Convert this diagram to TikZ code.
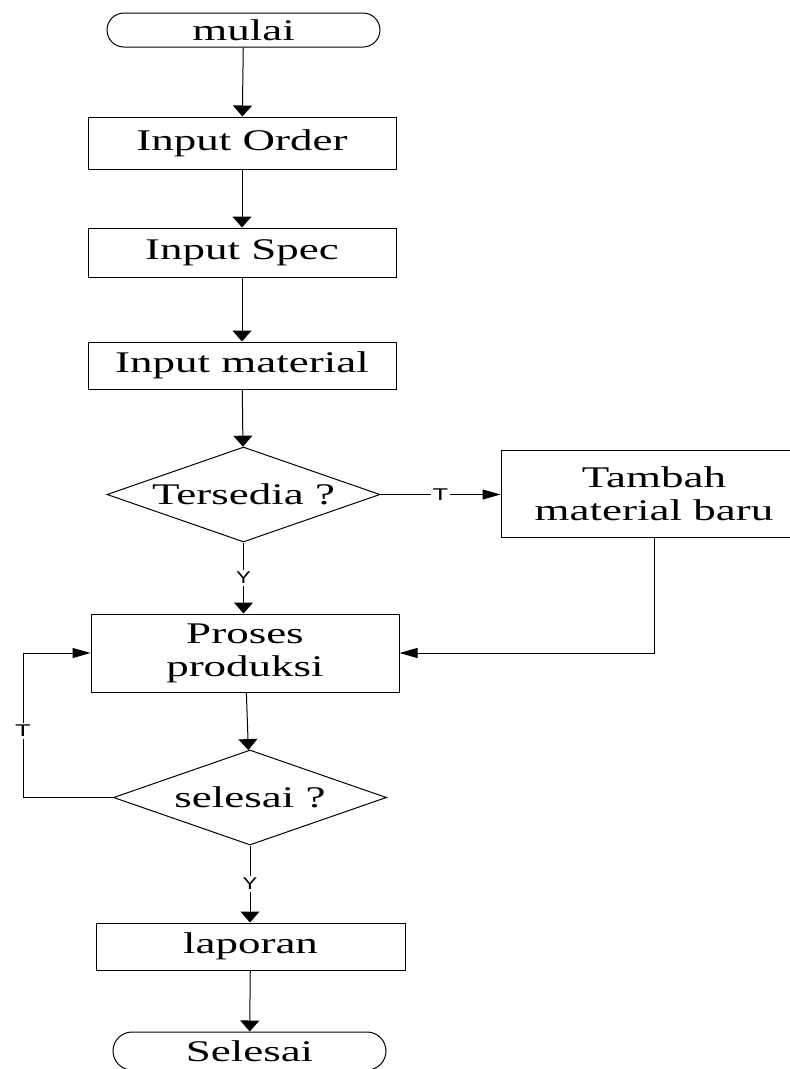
\documentclass[tikz,border=0pt]{standalone}
\usepackage{fontspec}
\setmainfont[FakeStretch=1.5]{Liberation Serif}
\newfontfamily\lblfont[FakeStretch=1.3]{Liberation Sans}
\newfontfamily\lblTfont[FakeStretch=1.5]{Liberation Sans}
\usetikzlibrary{shapes.geometric,shapes.misc,arrows.meta}
\begin{document}
\begin{tikzpicture}[x=1pt,y=-1pt,
  base/.style={draw=black, line width=1pt, font=\fontsize{30pt}{33pt}\selectfont, align=center, inner sep=0pt},
  proc/.style={base, rectangle, minimum width=308pt},
  term/.style={base, rounded rectangle, minimum width=273pt},
  dec/.style={base, diamond, aspect=2.87, minimum width=273pt, minimum height=95pt},
  flow/.style={line width=1pt, draw=black},
  varr/.style={flow, -{Triangle[length=11pt,width=19pt]}},
  harr/.style={flow, -{Triangle[length=18pt,width=10pt]}},
  lbl/.style={fill=white, inner sep=2pt, font=\lblfont\fontsize{17pt}{17pt}\selectfont},
  lblT/.style={lbl, font=\lblTfont\fontsize{17pt}{17pt}\selectfont},
]
\useasboundingbox (0,0) rectangle (790,1069);
\clip (0,0) rectangle (790,1069);

\node[term, minimum height=34pt] (start) at (243.5,30) {mulai};
\node[proc, minimum height=52pt] (order) at (242,143) {Input Order};
\node[proc, minimum height=49pt] (spec) at (242,252.5) {Input Spec};
\node[proc, minimum height=47pt] (mat) at (242,365.5) {Input material};
\node[dec] (avail) at (243.5,494.5) {Tersedia ?};
\node[proc, minimum height=87pt, minimum width=306pt] (add) at (654,493.5) {Tambah\\material baru};
\node[proc, minimum height=78pt] (prod) at (245,653) {Proses\\produksi};
\node[dec] (done) at (250,797.5) {selesai ?};
\node[proc, minimum height=47pt, minimum width=309pt] (rep) at (250.5,946.5) {laporan};
\node[term, minimum height=38pt] (end) at (249.5,1051) {Selesai};
\coordinate (lx) at (23,0);

\draw[varr] (start) -- (order);
\draw[varr] (order) -- (spec);
\draw[varr] (spec) -- (mat);
\draw[varr] (mat) -- (avail);
\draw[harr] (avail.east) -- node[lblT] (tlab) {T} (avail.east -| add.west);
\draw[varr] (avail.south) -- node[lbl] (ylab) {Y} (avail.south |- prod.north);
\draw[harr] (add.south) |- (prod.east);
\draw[varr] (prod) -- (done);
\draw[harr] (done.west) -- (done.west -| lx) |- node[lblT, pos=0.23] (tloop) {T} (prod.west);
\draw[varr] (done.south) -- node[lbl] (ylab2) {Y} (done.south |- rep.north);
\draw[varr] (rep) -- (end);
\end{tikzpicture}
\end{document}
